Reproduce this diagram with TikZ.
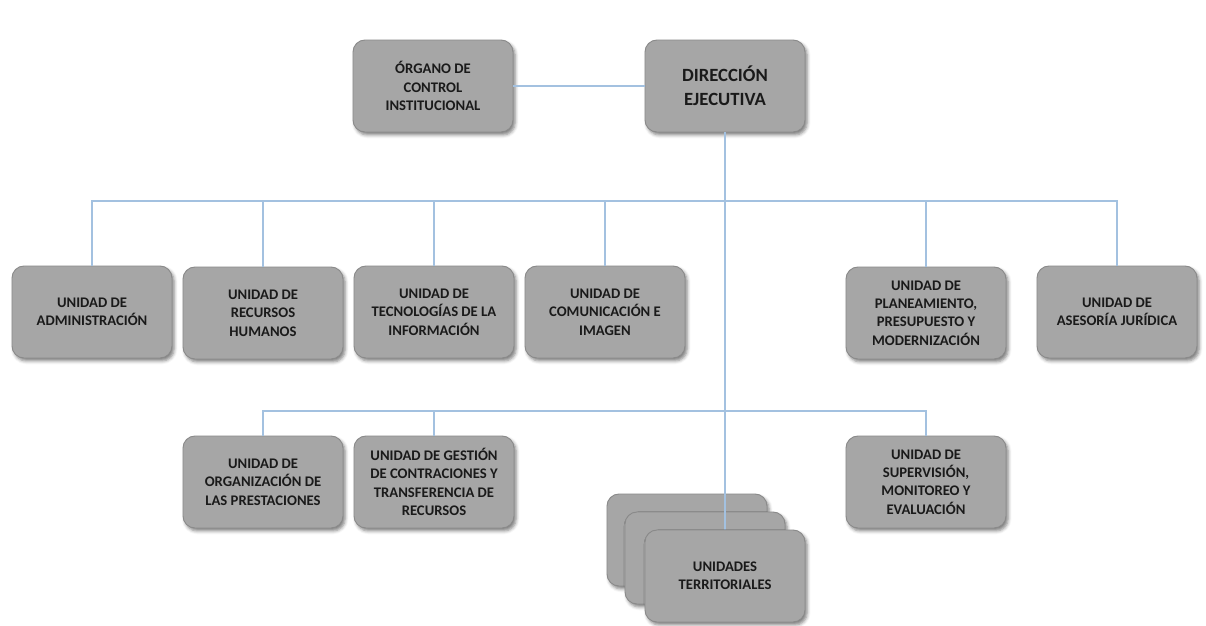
\documentclass[tikz,border=0pt]{standalone}
\usepackage{fontspec}
\setmainfont{Carlito}
\usetikzlibrary{shadows.blur}
\definecolor{boxfill}{HTML}{A6A6A6}
\definecolor{boxline}{HTML}{8A8A8A}
\definecolor{boxtext}{HTML}{1A1A1A}
\definecolor{linkblue}{HTML}{A3C1E0}
\tikzset{
  unitbox/.style={rectangle, rounded corners=9pt, fill=boxfill, draw=boxline, line width=0.7pt,
    minimum width=120pt, minimum height=69pt, inner sep=0pt, align=center, text=boxtext,
    font=\bfseries\fontsize{11}{13.8}\selectfont,
    blur shadow={shadow xshift=1.6pt, shadow yshift=-2.2pt, shadow blur radius=2.5pt, shadow opacity=50}},
  bigbox/.style={unitbox, font=\bfseries\fontsize{14}{18}\selectfont},
  link/.style={draw=linkblue, line width=1.1pt}
}
\begin{document}
\begin{tikzpicture}[x=0.75pt, y=-0.75pt]
\useasboundingbox (0,0) rectangle (1206,625);
% top
\node[unitbox] (org) at (433,86) {ÓRGANO DE\\CONTROL\\INSTITUCIONAL};
\node[bigbox] (dir) at (725,86) {DIRECCIÓN\\EJECUTIVA};
% row 1
\node[unitbox] (adm) at (92,312) {UNIDAD DE\\ADMINISTRACIÓN};
\node[unitbox] (rrhh) at (263,313) {UNIDAD DE\\RECURSOS\\HUMANOS};
\node[unitbox] (tec) at (434,312) {UNIDAD DE\\TECNOLOGÍAS DE LA\\INFORMACIÓN};
\node[unitbox] (com) at (605,312) {UNIDAD DE\\COMUNICACIÓN E\\IMAGEN};
\node[unitbox] (plan) at (926,313) {UNIDAD DE\\PLANEAMIENTO,\\PRESUPUESTO Y\\MODERNIZACIÓN};
\node[unitbox] (ase) at (1117,312) {UNIDAD DE\\ASESORÍA JURÍDICA};
% row 2
\node[unitbox] (orgp) at (263,482) {UNIDAD DE\\ORGANIZACIÓN DE\\LAS PRESTACIONES};
\node[unitbox] (gest) at (434,482) {UNIDAD DE GESTIÓN\\DE CONTRACIONES Y\\TRANSFERENCIA DE\\RECURSOS};
\node[unitbox] (sup) at (926,482) {UNIDAD DE\\SUPERVISIÓN,\\MONITOREO Y\\EVALUACIÓN};
% territorial stack
\node[unitbox] (ut3) at (687,540) {};
\node[unitbox] (ut2) at (705,558) {};
\coordinate (bus1) at (725,201);
\coordinate (bus2) at (725,411);
% connectors
\draw[link] (org.east) -- (dir.west);
\draw[link] (dir.south) -- (725,531);
\foreach \n in {adm,rrhh,tec,com,plan,ase} { \draw[link] (\n.north) |- (bus1); }
\foreach \n in {orgp,gest,sup} { \draw[link] (\n.north) |- (bus2); }
\node[unitbox] (ut1) at (725,576) {UNIDADES\\TERRITORIALES};
\end{tikzpicture}
\end{document}
